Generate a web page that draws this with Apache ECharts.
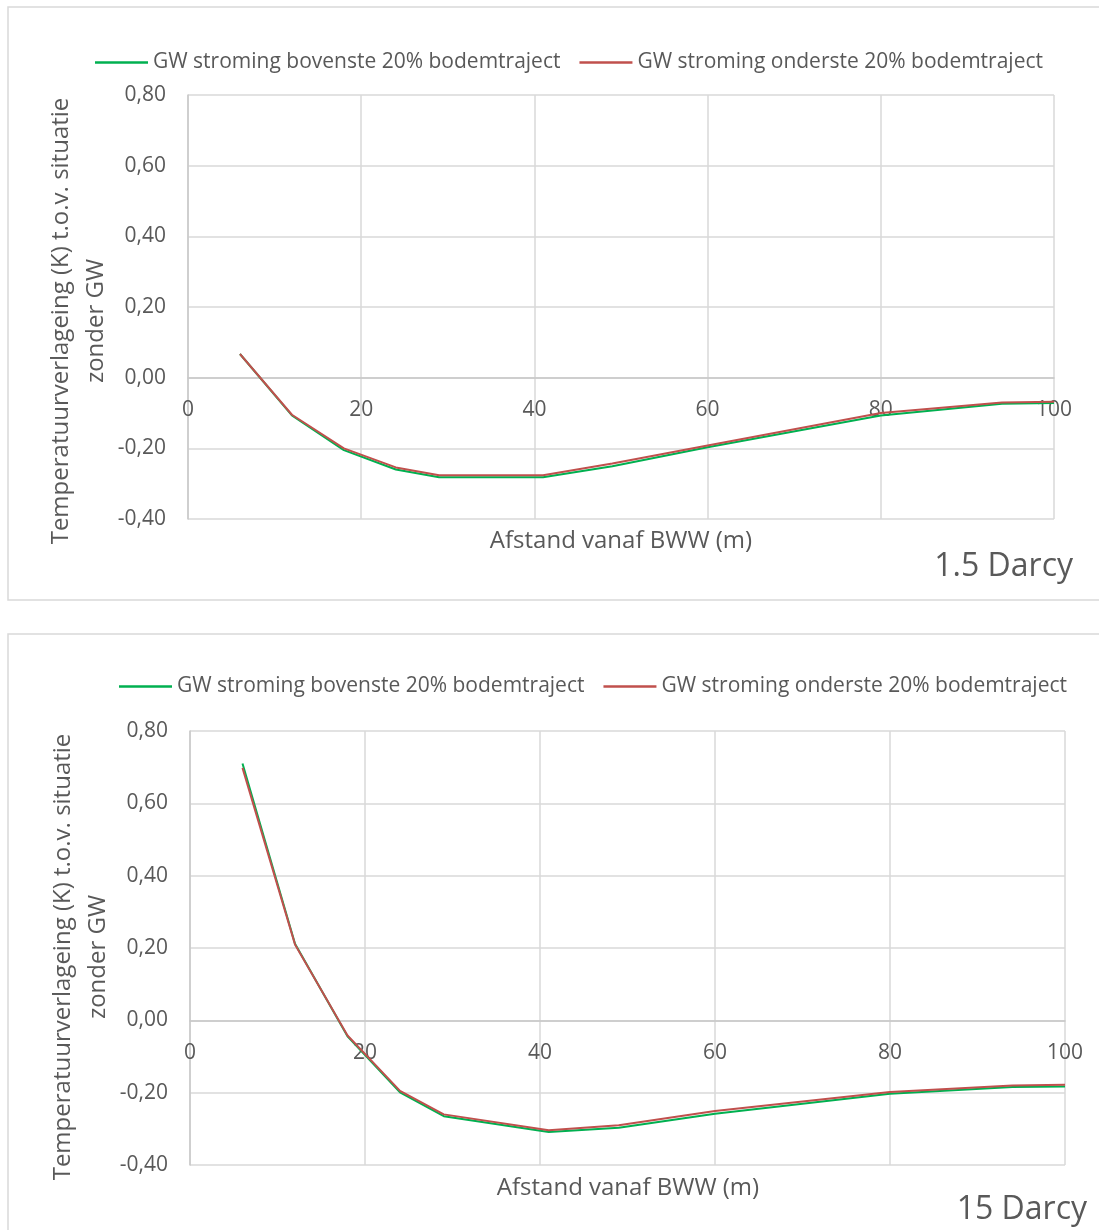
<!DOCTYPE html>
<html>
<head>
<meta charset="utf-8">
<script src="https://cdn.jsdelivr.net/npm/echarts@6/dist/echarts.min.js"></script>
<style>
  html, body { margin: 0; padding: 0; background: #fff; }
  #chart { width: 1099px; height: 1230px; }
</style>
</head>
<body>
<div id="chart"></div>
<script>
// afstand vanaf BWW (m)
const afstand = [6, 12, 18, 24, 29, 41, 49, 60, 80, 94, 100]

// 1.5 Darcy
const boven15 = [0.067, -0.107, -0.205, -0.260, -0.282, -0.282, -0.251, -0.197, -0.107, -0.074, -0.072]
const onder15 = [0.067, -0.105, -0.200, -0.254, -0.276, -0.276, -0.243, -0.192, -0.100, -0.070, -0.068]

// 15 Darcy
const boven150 = [0.710, 0.212, -0.044, -0.199, -0.265, -0.309, -0.297, -0.258, -0.203, -0.184, -0.183]
const onder150 = [0.698, 0.210, -0.042, -0.195, -0.260, -0.304, -0.290, -0.251, -0.198, -0.180, -0.178]

const seriesNames = ['GW stroming bovenste 20% bodemtraject', 'GW stroming onderste 20% bodemtraject']
const panelLabels = ['1.5 Darcy', '15 Darcy']
const yName = 'Temperatuurverlageing (K) t.o.v. situatie\nzonder GW'
const xName = 'Afstand vanaf BWW (m)'

const Y_MIN = -0.4
const Y_MAX = 0.8

const FONT = 'Open Sans'
const TXT = '#595959'
const GRIDC = '#d9d9d9'
const GREEN = '#00b050'
const RED = '#c0504d'

function pairs(xs, ys) {
    return xs.map((x, i) => [x, ys[i]])
}

const grids = [
    { left: 188, top: 95, width: 866, height: 424 },
    { left: 190, top: 731, width: 875, height: 434 }
]

// x-as ligt op y = 0 (zoals in Excel), dus omhoog schuiven vanaf de onderkant
function xAxisFor(i) {
    const shift = grids[i].height * (0 - Y_MIN) / (Y_MAX - Y_MIN)
    return {
        type: 'value',
        gridIndex: i,
        min: 0,
        max: 100,
        interval: 20,
        offset: -shift,
        axisLine: { onZero: false, lineStyle: { color: '#c8c8c8', width: 1.5 } },
        axisTick: { show: false },
        axisLabel: { color: TXT, fontSize: 21, fontFamily: FONT, margin: 22 },
        splitLine: { show: true, lineStyle: { color: GRIDC, width: 1.5 } }
    }
}

function yAxisFor(i) {
    return {
        type: 'value',
        gridIndex: i,
        min: Y_MIN,
        max: Y_MAX,
        interval: 0.2,
        axisLine: { show: true, lineStyle: { color: '#c8c8c8', width: 1.5 } },
        axisTick: { show: false },
        axisLabel: {
            color: TXT, fontSize: 21, fontFamily: FONT, margin: 22,
            formatter: v => v.toFixed(2).replace('.', ',')
        },
        splitLine: { show: true, lineStyle: { color: GRIDC, width: 1.5 } }
    }
}

function lineSeries(name, data, color, i) {
    return {
        name: name,
        type: 'line',
        xAxisIndex: i,
        yAxisIndex: i,
        data: data,
        symbol: 'none',
        lineStyle: { color: color, width: 2 },
        itemStyle: { color: color },
        animation: false
    }
}

function legendFor(left, top) {
    return {
        left: left,
        top: top,
        padding: 0,
        icon: 'rect',
        itemWidth: 53,
        itemHeight: 2.5,
        itemGap: 19,
        textStyle: { color: TXT, fontSize: 21, fontFamily: FONT },
        data: seriesNames
    }
}

function textEl(x, y, text, size, rot, align) {
    return {
        type: 'text',
        x: x,
        y: y,
        rotation: rot || 0,
        style: {
            text: text,
            fill: TXT,
            font: size + 'px "' + FONT + '"',
            align: align || 'center',
            verticalAlign: 'middle',
            lineHeight: 35
        }
    }
}

const chart = echarts.init(document.getElementById('chart'))

chart.setOption({
    backgroundColor: '#fff',
    animation: false,
    grid: grids,
    xAxis: [xAxisFor(0), xAxisFor(1)],
    yAxis: [yAxisFor(0), yAxisFor(1)],
    legend: [legendFor(95, 52), legendFor(119, 676)],
    series: [
        lineSeries(seriesNames[0], pairs(afstand, boven15), GREEN, 0),
        lineSeries(seriesNames[1], pairs(afstand, onder15), RED, 0),
        lineSeries(seriesNames[0], pairs(afstand, boven150), GREEN, 1),
        lineSeries(seriesNames[1], pairs(afstand, onder150), RED, 1)
    ],
    graphic: [
        { type: 'rect', shape: { x: 8, y: 7, width: 1100, height: 593 }, style: { fill: 'none', stroke: GRIDC, lineWidth: 1.5 } },
        { type: 'rect', shape: { x: 8, y: 634, width: 1100, height: 620 }, style: { fill: 'none', stroke: GRIDC, lineWidth: 1.5 } },
        textEl(79, 321, yName, 24, Math.PI / 2),
        textEl(81, 957, yName, 24, Math.PI / 2),
        textEl(621, 541, xName, 24),
        textEl(628, 1188, xName, 24),
        textEl(1073, 567, panelLabels[0], 32, 0, 'right'),
        textEl(1087, 1210, panelLabels[1], 32, 0, 'right')
    ]
})
</script>
</body>
</html>
